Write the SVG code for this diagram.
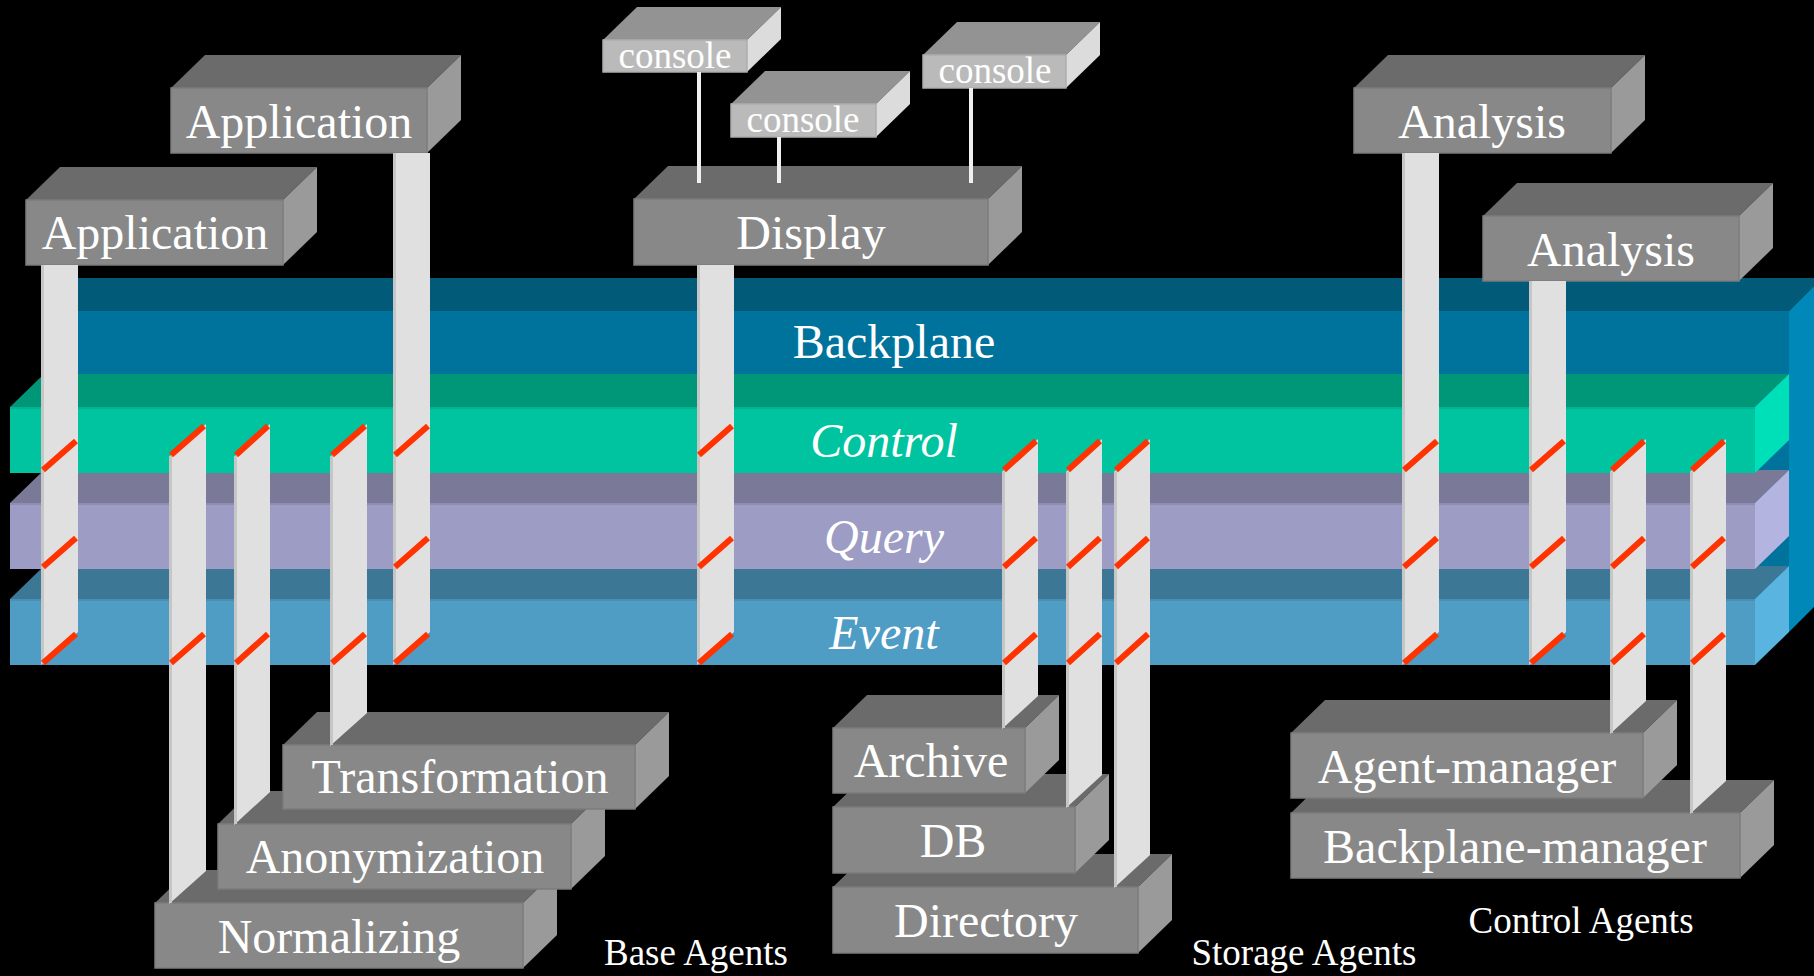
<svg xmlns="http://www.w3.org/2000/svg" width="1814" height="976" viewBox="0 0 1814 976">
<style>
.t{font-family:"Liberation Serif","Times New Roman",serif;fill:#ffffff;text-anchor:middle}
.big{font-size:48px}
.it{font-size:48px;font-style:italic}
.con{font-size:37px}
.cap{font-size:37px}
.bf{fill:#888888;stroke:#7c7c7c;stroke-width:1.5}
.bt{fill:#6b6b6b}
.bs{fill:#9a9a9a}
.cf{fill:#bababa;stroke:#adadad;stroke-width:1.5}
.ct{fill:#939393}
.cs{fill:#dcdcdc}
.pl{fill:#e0e0e0}
.pe{stroke:#c6c6c6;stroke-width:3}
.mk{stroke:#ff3300;stroke-width:6}
.wl{stroke:#f0f0f0;stroke-width:4}
</style>
<rect x="0" y="0" width="1814" height="976" fill="#000000"/>

<g id="backplane">
<polygon points="44,311 1789,311 1822,278 77,278" fill="#005a78"/>
<rect x="44" y="311" width="1745" height="321" fill="#00739c"/>
<polygon points="1789,311 1822,278 1822,599 1789,632" fill="#0088b8"/>
<text class="t big" x="894" y="358">Backplane</text>
</g>
<g id="event">
<polygon points="10,599 44,566 1789,566 1755,599" fill="#3c7896"/>
<rect x="10" y="599" width="1745" height="66" fill="#4f9cc4"/>
<rect x="10" y="599" width="1745" height="2" fill="#4890b6"/>
<polygon points="1755,599 1789,566 1789,632 1755,665" fill="#5ab4e0"/>
<text class="t it" x="884" y="649">Event</text>
</g>
<g id="query">
<polygon points="10,503 44,470 1789,470 1755,503" fill="#7a7a98"/>
<rect x="10" y="503" width="1745" height="66" fill="#9c9cc4"/>
<rect x="10" y="503" width="1745" height="2" fill="#8e8eb4"/>
<polygon points="1755,503 1789,470 1789,536 1755,569" fill="#b4b4e0"/>
<text class="t it" x="884" y="553">Query</text>
</g>
<g id="control">
<polygon points="10,407 44,374 1789,374 1755,407" fill="#009678"/>
<rect x="10" y="407" width="1745" height="66" fill="#00c3a0"/>
<rect x="10" y="407" width="1745" height="2" fill="#00b494"/>
<polygon points="1755,407 1789,374 1789,440 1755,473" fill="#00e0b8"/>
<text class="t it" x="884" y="457">Control</text>
</g>

<g id="application-1">
<polygon class="bt" points="26,200 60,167 317,167 283,200"/>
<polygon class="bs" points="283,200 317,167 317,232 283,265"/>
<rect class="bf" x="26" y="200" width="257" height="65"/>
<text class="t big" x="155" y="249">Application</text>
</g>
<g id="application-2">
<polygon class="bt" points="171,88 205,55 461,55 427,88"/>
<polygon class="bs" points="427,88 461,55 461,120 427,153"/>
<rect class="bf" x="171" y="88" width="256" height="65"/>
<text class="t big" x="299" y="138">Application</text>
</g>
<g id="display">
<polygon class="bt" points="634,199 668,166 1022,166 988,199"/>
<polygon class="bs" points="988,199 1022,166 1022,232 988,265"/>
<rect class="bf" x="634" y="199" width="354" height="66"/>
<text class="t big" x="811" y="249">Display</text>
</g>
<g id="console-1">
<polygon class="ct" points="603,40 637,7 781,7 747,40"/>
<polygon class="cs" points="747,40 781,7 781,39 747,72"/>
<rect class="cf" x="603" y="40" width="144" height="32"/>
<text class="t con" x="675" y="68">console</text>
</g>
<g id="console-2">
<polygon class="ct" points="731,104 765,71 910,71 876,104"/>
<polygon class="cs" points="876,104 910,71 910,104 876,137"/>
<rect class="cf" x="731" y="104" width="145" height="33"/>
<text class="t con" x="803" y="132">console</text>
</g>
<g id="console-3">
<polygon class="ct" points="923,55 957,22 1100,22 1066,55"/>
<polygon class="cs" points="1066,55 1100,22 1100,55 1066,88"/>
<rect class="cf" x="923" y="55" width="143" height="33"/>
<text class="t con" x="995" y="83">console</text>
</g>
<g id="analysis-1">
<polygon class="bt" points="1354,88 1388,55 1645,55 1611,88"/>
<polygon class="bs" points="1611,88 1645,55 1645,120 1611,153"/>
<rect class="bf" x="1354" y="88" width="257" height="65"/>
<text class="t big" x="1482" y="138">Analysis</text>
</g>
<g id="analysis-2">
<polygon class="bt" points="1483,216 1517,183 1773,183 1739,216"/>
<polygon class="bs" points="1739,216 1773,183 1773,248 1739,281"/>
<rect class="bf" x="1483" y="216" width="256" height="65"/>
<text class="t big" x="1611" y="266">Analysis</text>
</g>

<g id="normalizing">
<polygon class="bt" points="155,903 189,870 557,870 523,903"/>
<polygon class="bs" points="523,903 557,870 557,935 523,968"/>
<rect class="bf" x="155" y="903" width="368" height="65"/>
<text class="t big" x="339" y="953">Normalizing</text>
</g>
<g id="anonymization">
<polygon class="bt" points="218,824 252,791 605,791 571,824"/>
<polygon class="bs" points="571,824 605,791 605,856 571,889"/>
<rect class="bf" x="218" y="824" width="353" height="65"/>
<text class="t big" x="395" y="873">Anonymization</text>
</g>
<g id="transformation">
<polygon class="bt" points="283,745 317,712 669,712 635,745"/>
<polygon class="bs" points="635,745 669,712 669,776 635,809"/>
<rect class="bf" x="283" y="745" width="352" height="64"/>
<text class="t big" x="460" y="793">Transformation</text>
</g>
<g id="directory">
<polygon class="bt" points="833,887 867,854 1172,854 1138,887"/>
<polygon class="bs" points="1138,887 1172,854 1172,920 1138,953"/>
<rect class="bf" x="833" y="887" width="305" height="66"/>
<text class="t big" x="986" y="937">Directory</text>
</g>
<g id="db">
<polygon class="bt" points="833,807 867,774 1109,774 1075,807"/>
<polygon class="bs" points="1075,807 1109,774 1109,840 1075,873"/>
<rect class="bf" x="833" y="807" width="242" height="66"/>
<text class="t big" x="953" y="857">DB</text>
</g>
<g id="archive">
<polygon class="bt" points="833,728 867,695 1059,695 1025,728"/>
<polygon class="bs" points="1025,728 1059,695 1059,760 1025,793"/>
<rect class="bf" x="833" y="728" width="192" height="65"/>
<text class="t big" x="931" y="777">Archive</text>
</g>
<g id="backplane-manager">
<polygon class="bt" points="1291,813 1325,780 1774,780 1740,813"/>
<polygon class="bs" points="1740,813 1774,780 1774,845 1740,878"/>
<rect class="bf" x="1291" y="813" width="449" height="65"/>
<text class="t big" x="1515" y="863">Backplane-manager</text>
</g>
<g id="agent-manager">
<polygon class="bt" points="1291,733 1325,700 1677,700 1643,733"/>
<polygon class="bs" points="1643,733 1677,700 1677,765 1643,798"/>
<rect class="bf" x="1291" y="733" width="352" height="65"/>
<text class="t big" x="1467" y="783">Agent-manager</text>
</g>

<g id="group-labels">
<text class="t cap" x="696" y="965">Base Agents</text>
<text class="t cap" x="1304" y="965">Storage Agents</text>
<text class="t cap" x="1581" y="933">Control Agents</text>
</g>

<g id="connectors">
<line class="wl" x1="699" y1="72" x2="699" y2="183"/>
<line class="wl" x1="779" y1="137" x2="779" y2="183"/>
<line class="wl" x1="971" y1="88" x2="971" y2="183"/>

<polygon class="pl" points="41,265 78,265 78,632 41,665"/>
<line class="pe" x1="42.5" y1="265" x2="42.5" y2="664"/>
<polygon class="pl" points="393,153 430,153 430,632 393,665"/>
<line class="pe" x1="394.5" y1="153" x2="394.5" y2="664"/>
<polygon class="pl" points="697,265 734,265 734,632 697,665"/>
<line class="pe" x1="698.5" y1="265" x2="698.5" y2="664"/>
<polygon class="pl" points="1402,153 1439,153 1439,632 1402,665"/>
<line class="pe" x1="1403.5" y1="153" x2="1403.5" y2="664"/>
<polygon class="pl" points="1529,281 1566,281 1566,632 1529,665"/>
<line class="pe" x1="1530.5" y1="281" x2="1530.5" y2="664"/>

<polygon class="pl" points="169,457 206,424 206,871 169,904"/>
<line class="pe" x1="170.5" y1="456" x2="170.5" y2="903"/>
<polygon class="pl" points="234,457 270,424 270,792 234,825"/>
<line class="pe" x1="235.5" y1="456" x2="235.5" y2="824"/>
<polygon class="pl" points="330,457 367,424 367,713 330,746"/>
<line class="pe" x1="331.5" y1="456" x2="331.5" y2="745"/>

<polygon class="pl" points="1002,472 1038,439 1038,696 1002,729"/>
<line class="pe" x1="1003.5" y1="471" x2="1003.5" y2="728"/>
<polygon class="pl" points="1066,472 1102,439 1102,775 1066,808"/>
<line class="pe" x1="1067.5" y1="471" x2="1067.5" y2="807"/>
<polygon class="pl" points="1114,472 1150,439 1150,855 1114,888"/>
<line class="pe" x1="1115.5" y1="471" x2="1115.5" y2="887"/>

<polygon class="pl" points="1610,472 1646,439 1646,701 1610,734"/>
<line class="pe" x1="1611.5" y1="471" x2="1611.5" y2="733"/>
<polygon class="pl" points="1690,472 1726,439 1726,781 1690,814"/>
<line class="pe" x1="1691.5" y1="471" x2="1691.5" y2="813"/>

<g id="marks">
<line class="mk" x1="43" y1="470" x2="76" y2="441"/>
<line class="mk" x1="43" y1="567" x2="76" y2="538"/>
<line class="mk" x1="43" y1="663" x2="76" y2="634"/>
<line class="mk" x1="395" y1="455" x2="428" y2="426"/>
<line class="mk" x1="395" y1="567" x2="428" y2="538"/>
<line class="mk" x1="395" y1="663" x2="428" y2="634"/>
<line class="mk" x1="699" y1="455" x2="732" y2="426"/>
<line class="mk" x1="699" y1="567" x2="732" y2="538"/>
<line class="mk" x1="699" y1="663" x2="732" y2="634"/>
<line class="mk" x1="171" y1="455" x2="204" y2="426"/>
<line class="mk" x1="171" y1="663" x2="204" y2="634"/>
<line class="mk" x1="236" y1="455" x2="268" y2="426"/>
<line class="mk" x1="236" y1="663" x2="268" y2="634"/>
<line class="mk" x1="332" y1="455" x2="365" y2="426"/>
<line class="mk" x1="332" y1="663" x2="365" y2="634"/>
<line class="mk" x1="1004" y1="470" x2="1036" y2="441"/>
<line class="mk" x1="1004" y1="567" x2="1036" y2="538"/>
<line class="mk" x1="1004" y1="663" x2="1036" y2="634"/>
<line class="mk" x1="1068" y1="470" x2="1100" y2="441"/>
<line class="mk" x1="1068" y1="567" x2="1100" y2="538"/>
<line class="mk" x1="1068" y1="663" x2="1100" y2="634"/>
<line class="mk" x1="1116" y1="470" x2="1148" y2="441"/>
<line class="mk" x1="1116" y1="567" x2="1148" y2="538"/>
<line class="mk" x1="1116" y1="663" x2="1148" y2="634"/>
<line class="mk" x1="1404" y1="470" x2="1437" y2="441"/>
<line class="mk" x1="1404" y1="567" x2="1437" y2="538"/>
<line class="mk" x1="1404" y1="663" x2="1437" y2="634"/>
<line class="mk" x1="1531" y1="470" x2="1564" y2="441"/>
<line class="mk" x1="1531" y1="567" x2="1564" y2="538"/>
<line class="mk" x1="1531" y1="663" x2="1564" y2="634"/>
<line class="mk" x1="1612" y1="470" x2="1644" y2="441"/>
<line class="mk" x1="1612" y1="567" x2="1644" y2="538"/>
<line class="mk" x1="1612" y1="663" x2="1644" y2="634"/>
<line class="mk" x1="1692" y1="470" x2="1724" y2="441"/>
<line class="mk" x1="1692" y1="567" x2="1724" y2="538"/>
<line class="mk" x1="1692" y1="663" x2="1724" y2="634"/>
</g>
</g>
</svg>
